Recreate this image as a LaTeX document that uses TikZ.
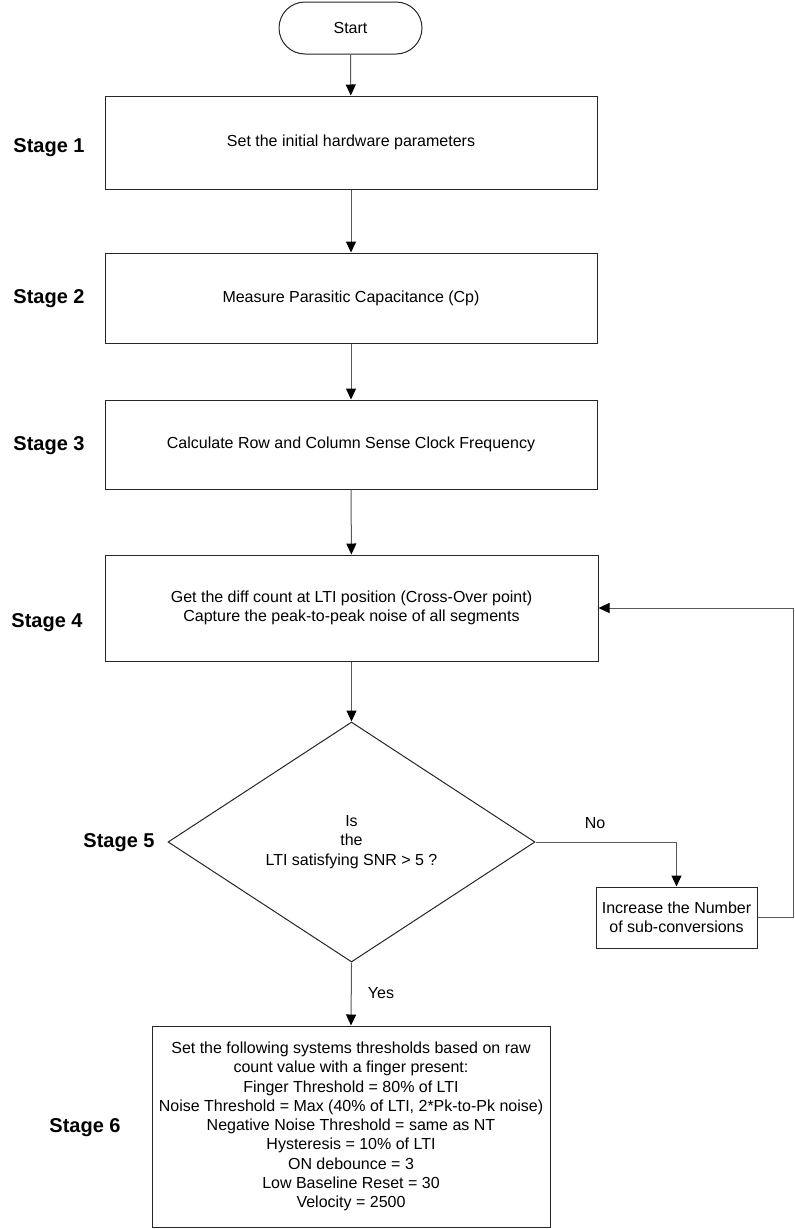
\documentclass[tikz,border=0pt]{standalone}
\usepackage{fontspec}
\setmainfont{Liberation Sans}
\usetikzlibrary{shapes.geometric,arrows.meta,calc}
\begin{document}
\begin{tikzpicture}[x=1pt,y=-1pt,
  txt/.style={font=\fontsize{16}{19.25}\selectfont, align=center, text=black},
  box/.style={txt, draw=black!85, line width=1pt, rectangle, inner sep=0pt},
  stagelbl/.style={font=\bfseries\fontsize{20}{22}\selectfont, text=black},
  conn/.style={draw=black!65, line width=1pt, -{Triangle[length=11pt,width=10pt,color=black,fill=black]}},
  lbl/.style={txt, inner sep=0pt}]
\useasboundingbox (0,0) rectangle (795,1229);

% nodes
\node[box, rounded corners=26pt, minimum width=143pt, minimum height=52pt] (start) at (350.5,28) {Start};
\node[box, minimum width=492pt, minimum height=93pt] (b1) at (351,142.5) {Set the initial hardware parameters};
\node[box, minimum width=492pt, minimum height=90pt] (b2) at (351,298) {Measure Parasitic Capacitance (Cp)};
\node[box, minimum width=492pt, minimum height=89pt] (b3) at (351,444.5) {Calculate Row and Column Sense Clock Frequency};
\node[box, minimum width=493pt, minimum height=106pt] (b4) at (351.5,608) {Get the diff count at LTI position (Cross-Over point)\\Capture the peak-to-peak noise of all segments};
\node[txt, diamond, draw=black!85, line width=1pt, aspect=1.53, minimum width=367pt, minimum height=240pt, inner sep=0pt] (d) at (351.5,842) {Is\\the\\LTI satisfying SNR > 5 ?};
\node[box, minimum width=161pt, minimum height=61pt] (b5) at (676.5,917.5) {Increase the Number\\of sub-conversions};
\node[box, minimum width=398pt, minimum height=201pt] (b6) at (351,1126.5) {Set the following systems thresholds based on raw\\count value with a finger present:\\Finger Threshold = 80\% of LTI\\Noise Threshold = Max (40\% of LTI, 2*Pk-to-Pk noise)\\Negative Noise Threshold = same as NT\\Hysteresis = 10\% of LTI\\ON debounce = 3\\Low Baseline Reset = 30\\Velocity = 2500};

% stage labels
\node[stagelbl] (s1) at (49,148) {Stage 1};
\node[stagelbl] (s2) at (49,299) {Stage 2};
\node[stagelbl] (s3) at (49,446) {Stage 3};
\node[stagelbl] (s4) at (47,623) {Stage 4};
\node[stagelbl] (s5) at (119,843) {Stage 5};
\node[stagelbl] (s6) at (85,1128) {Stage 6};

% edge labels
\node[lbl] (no) at (595,823) {No};
\node[lbl] (yes) at (381,993) {Yes};

% connectors
\draw[conn] (start) -- (b1);
\draw[conn] (b1) -- (b2);
\draw[conn] (b2) -- (b3);
\draw[conn] (b3) -- (b4);
\draw[conn] (b4) -- (d);
\draw[conn] (d.east) -| (b5.north);
\draw[conn] (d.south) -- (b6.north);
\draw[conn] (b5.east) -- ++(36,0) coordinate (loopc) |- (b4.east);
\end{tikzpicture}
\end{document}
